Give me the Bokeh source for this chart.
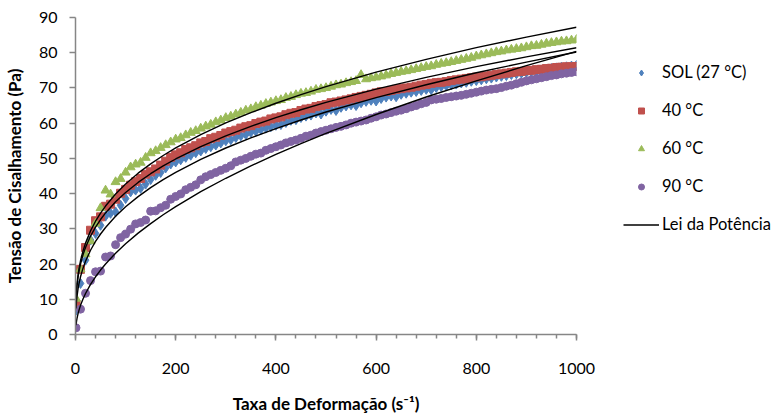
from bokeh.plotting import figure
from bokeh.layouts import row
from bokeh.models import Range1d, Legend, LegendItem, FixedTicker
from bokeh.embed import file_html
from bokeh.resources import INLINE

# shear rate (s^-1)
gamma = [1, 10, 20, 30, 40, 50, 60, 70, 80, 90,
         100, 110, 120, 130, 140, 150, 160, 170, 180, 190,
         200, 210, 220, 230, 240, 250, 260, 270, 280, 290,
         300, 310, 320, 330, 340, 350, 360, 370, 380, 390,
         400, 410, 420, 430, 440, 450, 460, 470, 480, 490,
         500, 510, 520, 530, 540, 550, 560, 570, 580, 590,
         600, 610, 620, 630, 640, 650, 660, 670, 680, 690,
         700, 710, 720, 730, 740, 750, 760, 770, 780, 790,
         800, 810, 820, 830, 840, 850, 860, 870, 880, 890,
         900, 910, 920, 930, 940, 950, 960, 970, 980, 990,
         1000]

sol_27 = [6.9, 14.5, 21.1, 26.8, 28.7, 31.0, 33.6, 34.4, 34.8, 36.7,
          38.6, 40.5, 41.0, 41.5, 42.7, 44.0, 45.2, 46.0, 47.3, 48.4,
          49.0, 49.6, 50.3, 50.9, 51.6, 52.1, 52.8, 53.3, 53.8, 54.4,
          55.0, 55.3, 55.9, 56.4, 56.8, 57.4, 57.7, 58.2, 58.6, 59.0,
          59.4, 59.6, 60.2, 60.8, 61.0, 61.6, 62.0, 62.3, 62.9, 62.6,
          63.4, 63.9, 63.6, 64.5, 64.9, 65.2, 65.0, 65.8, 66.2, 66.5,
          66.3, 67.0, 67.4, 67.7, 67.5, 68.2, 68.5, 68.8, 69.0, 69.3,
          69.6, 69.5, 70.1, 70.4, 70.6, 70.9, 71.1, 71.4, 71.6, 71.9,
          72.1, 72.3, 72.6, 72.8, 73.1, 73.3, 73.5, 73.8, 74.0, 74.2,
          74.4, 74.6, 74.8, 75.1, 75.3, 75.5, 75.7, 75.9, 76.0, 76.2,
          76.4]

t_40 = [8.6, 18.5, 24.7, 29.6, 32.3, 33.4, 36.4, 37.0, 38.4, 40.1,
        41.2, 42.4, 43.4, 44.3, 45.5, 46.2, 47.0, 48.1, 49.2, 50.3,
        51.0, 51.6, 52.5, 53.0, 53.6, 54.4, 54.8, 55.6, 56.0, 56.5,
        57.2, 57.6, 58.0, 58.6, 59.0, 59.3, 59.9, 60.3, 60.6, 61.2,
        61.5, 61.8, 62.4, 62.8, 63.0, 63.6, 64.0, 64.2, 64.7, 65.0,
        65.3, 65.8, 66.0, 66.3, 66.6, 66.9, 67.3, 67.6, 67.9, 68.2,
        68.6, 68.9, 69.0, 69.3, 69.6, 69.8, 70.0, 70.2, 70.5, 70.8,
        71.0, 71.3, 71.5, 71.6, 71.8, 72.1, 72.3, 72.5, 72.7, 72.9,
        73.1, 73.2, 73.4, 73.6, 73.8, 74.0, 74.2, 74.4, 74.6, 74.7,
        74.9, 75.0, 75.2, 75.3, 75.5, 75.6, 75.8, 75.9, 76.0, 76.0,
        76.1]

t_60 = [10.2, 18.5, 22.8, 26.5, 31.5, 35.9, 40.9, 39.8, 43.3, 44.2,
        46.0, 47.5, 48.3, 48.8, 50.2, 51.5, 52.1, 53.0, 53.8, 54.6,
        55.4, 55.8, 56.6, 57.3, 57.8, 58.5, 59.1, 59.6, 60.3, 60.8,
        61.5, 61.9, 62.5, 63.0, 63.6, 64.0, 64.6, 65.0, 65.5, 65.9,
        66.3, 66.6, 67.2, 67.5, 68.0, 68.4, 68.6, 69.0, 69.5, 69.7,
        70.0, 70.4, 70.8, 71.0, 71.4, 71.7, 72.0, 73.7, 72.5, 72.8,
        73.0, 73.3, 73.6, 74.0, 74.3, 74.6, 74.8, 75.1, 75.4, 75.7,
        76.0, 76.2, 76.6, 76.9, 77.1, 77.4, 77.7, 78.0, 78.3, 78.6,
        79.0, 79.3, 79.6, 79.9, 80.2, 80.4, 80.7, 80.9, 81.1, 81.3,
        81.6, 81.9, 82.0, 82.3, 82.6, 82.8, 83.0, 83.2, 83.3, 83.5,
        83.7]

t_90 = [1.9, 7.2, 11.7, 15.3, 17.8, 18.0, 22.0, 22.3, 25.5, 27.5,
        28.5, 29.9, 31.4, 31.8, 32.5, 35.0, 35.1, 36.0, 36.7, 38.4,
        39.2, 39.9, 41.1, 41.8, 42.5, 43.9, 44.8, 45.4, 46.0, 46.6,
        47.2, 47.9, 49.0, 49.5, 50.0, 50.6, 51.2, 51.5, 52.3, 52.8,
        53.3, 53.8, 54.4, 54.8, 55.2, 55.7, 56.3, 56.6, 57.2, 57.6,
        58.0, 58.4, 58.8, 59.1, 59.5, 60.0, 60.3, 60.6, 60.9, 61.4,
        61.8, 62.3, 62.6, 63.0, 63.4, 63.7, 64.1, 64.6, 65.0, 65.5,
        65.9, 66.6, 66.8, 67.0, 67.3, 67.5, 67.7, 67.9, 68.2, 68.5,
        68.8, 69.1, 69.4, 69.6, 69.8, 70.1, 70.5, 70.8, 71.2, 71.6,
        72.0, 72.3, 72.6, 72.9, 73.2, 73.5, 73.7, 74.0, 74.2, 74.4,
        74.6]

# power-law (Lei da Potência) fitted curves
fit_gamma = [1, 2, 3, 5, 7, 10, 15, 20, 30, 40, 50, 60, 80, 100, 125, 150, 175,
             200, 250, 300, 350, 400, 450, 500, 600, 700, 800, 900, 1000]
fit_sol = [7.40, 9.40, 10.81, 12.89, 14.48, 16.38, 18.83, 20.80, 23.92, 26.42,
           28.53, 30.38, 33.56, 36.25, 39.15, 41.69, 43.96, 46.04, 49.71, 52.95,
           55.84, 58.46, 60.89, 63.16, 67.25, 70.91, 74.30, 77.33, 80.22]
fit_40 = [9.90, 12.23, 13.84, 16.18, 17.92, 19.98, 22.61, 24.69, 27.94, 30.50,
          32.64, 34.51, 37.68, 40.33, 43.17, 45.65, 47.85, 49.83, 53.33, 56.39,
          59.09, 61.55, 63.81, 65.89, 69.67, 73.01, 76.05, 78.83, 81.40]
fit_60 = [10.25, 12.71, 14.41, 16.88, 18.74, 20.93, 23.73, 25.94, 29.42, 32.16,
          34.47, 36.47, 39.87, 42.73, 45.80, 48.45, 50.82, 52.97, 56.76, 60.07,
          63.01, 65.66, 68.11, 70.38, 74.48, 78.13, 81.43, 84.43, 87.24]
fit_90 = [2.65, 3.73, 4.56, 5.87, 6.93, 8.27, 10.10, 11.64, 14.22, 16.39,
          18.30, 20.03, 23.09, 25.78, 28.78, 31.48, 34.00, 36.31, 40.55, 44.36,
          47.86, 51.12, 54.19, 57.08, 62.46, 67.42, 72.00, 76.32, 80.40]

series_labels = ["SOL (27 °C)", "40 °C", "60 °C", "90 °C"]
fit_label = "Lei da Potência"
x_title = "Taxa de Deformação (s⁻¹)"
y_title = "Tensão de Cisalhamento (Pa)"
x_ticks = [0, 200, 400, 600, 800, 1000]
x_minor = [0, 40, 80, 120, 160, 200, 240, 280, 320, 360, 400, 440, 480, 520, 560,
           600, 640, 680, 720, 760, 800, 840, 880, 920, 960, 1000]
y_ticks = [0, 10, 20, 30, 40, 50, 60, 70, 80, 90]

BLUE, RED, GREEN, PURPLE = "#4F81BD", "#C0504D", "#9BBB59", "#8064A2"
AXIS = "#868686"
FONT = "Lato"

# ---------------- main chart ----------------
p = figure(width=596, height=419, output_backend="svg", toolbar_location=None,
           x_range=Range1d(0, 1000), y_range=Range1d(0, 90),
           min_border_left=74, min_border_right=20, min_border_top=17,
           min_border_bottom=85)
p.outline_line_color = None
p.grid.visible = False
p.background_fill_color = "white"
p.border_fill_color = "white"

p.scatter(gamma, sol_27, marker="diamond", size=10, color=BLUE)
p.scatter(gamma, t_40, marker="square", size=8, color=RED)
p.scatter(gamma, t_60, marker="triangle", size=9, color=GREEN)
p.scatter(gamma, t_90, marker="circle", size=8, color=PURPLE)

for fit in (fit_sol, fit_40, fit_60, fit_90):
    p.line(fit_gamma, fit, line_color="black", line_width=1.4)

for ax in (p.xaxis[0], p.yaxis[0]):
    ax.axis_line_color = AXIS
    ax.axis_line_width = 1.5
    ax.major_tick_line_color = AXIS
    ax.major_tick_line_width = 1.5
    ax.minor_tick_line_color = AXIS
    ax.minor_tick_line_width = 1.5
    ax.major_tick_in = 0
    ax.minor_tick_in = 0
    ax.major_label_text_font = FONT
    ax.major_label_text_font_size = "16px"
    ax.major_label_text_color = "black"
    ax.axis_label_text_font = FONT
    ax.axis_label_text_font_style = "bold"
    ax.axis_label_text_font_size = "17px"
    ax.axis_label_text_color = "black"

p.xaxis[0].ticker = FixedTicker(ticks=x_ticks, minor_ticks=x_minor)
p.xaxis[0].major_tick_out = 6
p.xaxis[0].minor_tick_out = 4
p.xaxis[0].major_label_standoff = 22
p.xaxis[0].axis_label = x_title
p.xaxis[0].axis_label_standoff = 16

p.yaxis[0].ticker = FixedTicker(ticks=y_ticks, minor_ticks=[])
p.yaxis[0].major_tick_out = 6
p.yaxis[0].minor_tick_out = 0
p.yaxis[0].major_label_standoff = 12
p.yaxis[0].axis_label = y_title
p.yaxis[0].axis_label_standoff = 11

# ---------------- legend panel ----------------
q = figure(width=179, height=419, output_backend="svg", toolbar_location=None,
           x_range=Range1d(0, 1), y_range=Range1d(0, 1),
           x_axis_type=None, y_axis_type=None,
           min_border_left=0, min_border_right=0, min_border_top=0,
           min_border_bottom=0)
q.outline_line_color = None
q.grid.visible = False
q.background_fill_color = "white"
q.border_fill_color = "white"

# one off-screen point each, so that the legend can draw its glyphs
hx, hy = [-5], [-5]
l_sol = q.scatter(hx, hy, marker="diamond", size=9, color=BLUE)
l_40 = q.scatter(hx, hy, marker="square", size=7, color=RED)
l_60 = q.scatter(hx, hy, marker="triangle", size=6, color=GREEN)
l_90 = q.scatter(hx, hy, marker="circle", size=5, color=PURPLE)
l_fit = q.line(hx, hy, line_color="black", line_width=1.4)

legend = Legend(items=[
    LegendItem(label=series_labels[0], renderers=[l_sol]),
    LegendItem(label=series_labels[1], renderers=[l_40]),
    LegendItem(label=series_labels[2], renderers=[l_60]),
    LegendItem(label=series_labels[3], renderers=[l_90]),
    LegendItem(label=fit_label, renderers=[l_fit]),
], location=(27, 100), orientation="vertical",
    glyph_width=36, glyph_height=15, label_height=20, spacing=18,
    padding=0, margin=0, border_line_color=None, background_fill_alpha=0,
    label_standoff=3, label_text_font=FONT, label_text_font_size="16.5px",
    label_text_color="black")
q.add_layout(legend)

layout = row(p, q, spacing=0)
open("out.html", "w").write(file_html(layout, INLINE))
